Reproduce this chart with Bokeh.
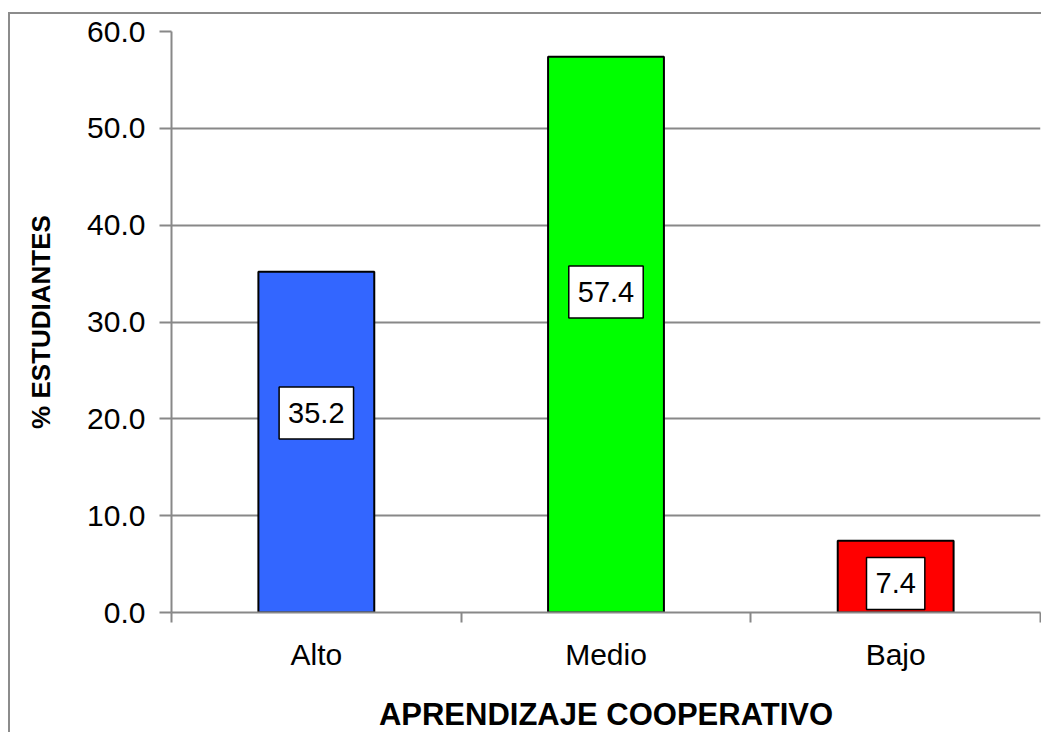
from bokeh.plotting import figure
from bokeh.models import ColumnDataSource, FixedTicker, NumeralTickFormatter, Range1d
from bokeh.core.properties import value
from bokeh.embed import file_html
from bokeh.resources import INLINE

categories = ["Alto", "Medio", "Bajo"]
percentages = [35.2, 57.4, 7.4]
bar_colors = ["#3366FF", "#00FF00", "#FF0000"]
y_ticks = [0, 10, 20, 30, 40, 50, 60]

# label anchor heights (Excel-like placement inside bars)
label_y = [20.6, 33.1, 3.0]

FONT = "Liberation Sans"

xpos = [i + 0.5 for i in range(len(categories))]
src = ColumnDataSource(dict(
    x=xpos, top=percentages, color=bar_colors,
    ly=label_y, txt=[f"{v:.1f}" for v in percentages],
))

p = figure(width=1033, height=720, output_backend="svg", toolbar_location=None,
           x_range=Range1d(0, len(categories)), y_range=Range1d(0, 60),
           min_border_left=161, min_border_top=17, min_border_right=3, min_border_bottom=120)
p.styles = {"margin-left": "8px", "margin-top": "12px",
            "border-left": "2px solid #8c8c8c", "border-top": "2px solid #8c8c8c"}
p.outline_line_color = None
p.background_fill_color = "white"
p.border_fill_color = "white"

p.vbar(x="x", top="top", bottom=0, width=0.4, fill_color="color",
       line_color="black", line_width=2, source=src)

p.text(x="x", y="ly", text="txt", source=src, text_align="center", text_baseline="middle",
       text_font=value(FONT), text_font_size="29px", text_color="black",
       background_fill_color="white", border_line_color="black", border_line_width=1.5,
       padding=(9, 9, 16, 16))

# y axis
p.yaxis.ticker = FixedTicker(ticks=y_ticks)
p.yaxis.formatter = NumeralTickFormatter(format="0.0")
p.yaxis.axis_line_color = "#888888"
p.yaxis.axis_line_width = 2
p.yaxis.major_tick_line_color = "#888888"
p.yaxis.major_tick_line_width = 2
p.yaxis.major_tick_out = 12
p.yaxis.major_tick_in = 0
p.yaxis.minor_tick_line_color = None
p.yaxis.major_label_text_font = FONT
p.yaxis.major_label_text_font_size = "30px"
p.yaxis.major_label_text_color = "black"
p.yaxis.major_label_standoff = 14
p.yaxis.axis_label = "% ESTUDIANTES"
p.yaxis.axis_label_text_font = FONT
p.yaxis.axis_label_text_font_style = "bold"
p.yaxis.axis_label_text_font_size = "26px"
p.yaxis.axis_label_text_color = "black"
p.yaxis.axis_label_standoff = 28

# x axis
p.xaxis.ticker = FixedTicker(ticks=xpos, minor_ticks=[0, 1, 2, 3])
p.xaxis.major_label_overrides = {x: c for x, c in zip(xpos, categories)}
p.xaxis.axis_line_color = "#888888"
p.xaxis.axis_line_width = 2
p.xaxis.major_tick_line_color = None
p.xaxis.minor_tick_line_color = "#888888"
p.xaxis.minor_tick_line_width = 2
p.xaxis.minor_tick_out = 10
p.xaxis.minor_tick_in = 0
p.xaxis.major_label_text_font = FONT
p.xaxis.major_label_text_font_size = "30px"
p.xaxis.major_label_text_color = "black"
p.xaxis.major_label_standoff = 15
p.xaxis.axis_label = "APRENDIZAJE COOPERATIVO"
p.xaxis.axis_label_text_font = FONT
p.xaxis.axis_label_text_font_style = "bold"
p.xaxis.axis_label_text_font_size = "31px"
p.xaxis.axis_label_text_color = "black"
p.xaxis.axis_label_standoff = 23

p.xgrid.grid_line_color = None
p.ygrid.ticker = FixedTicker(ticks=y_ticks)
p.ygrid.grid_line_color = "#888888"
p.ygrid.grid_line_width = 2

open("out.html", "w").write(file_html(p, INLINE))
